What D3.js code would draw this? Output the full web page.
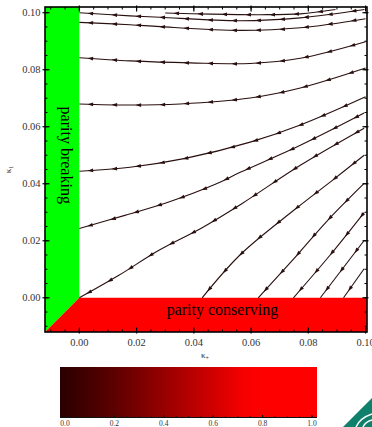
<!DOCTYPE html>
<html><head><meta charset="utf-8">
<script src="https://cdn.jsdelivr.net/npm/d3@7"></script>
<style>body{margin:0;background:#fff}svg{display:block}text{font-family:"Liberation Serif","DejaVu Serif",serif}</style>
</head><body><svg id="c" width="372" height="427"></svg>
<script>
// ---- data ----
const xTickValues = [0, 0.02, 0.04, 0.06, 0.08, 0.10];
const yTickValues = [0, 0.02, 0.04, 0.06, 0.08, 0.10];
const colorTickValues = [0, 0.2, 0.4, 0.6, 0.8, 1.0];
const regionLabels = ["parity breaking", "parity conserving"];
const axisLabels = ["κ", "+", "1"];
// streamlines, listed from the downstream (left) end; flow runs toward the first point
const stream01 = [[0.0300,0.0999],[0.0457,0.0995],[0.0632,0.0993],[0.0772,0.0996],[0.0895,0.1011]];
const stream02 = [[0.0000,0.1000],[0.0177,0.0989],[0.0282,0.0984],[0.0562,0.0972],[0.0772,0.0982],[0.0996,0.1011]];
const stream03 = [[0.0000,0.0966],[0.0177,0.0958],[0.0282,0.0951],[0.0562,0.0938],[0.0772,0.0947],[0.1000,0.0979]];
const stream04 = [[0.0000,0.0842],[0.0177,0.0831],[0.0387,0.0824],[0.0597,0.0822],[0.0772,0.0840],[0.1000,0.0898]];
const stream05 = [[0.0000,0.0680],[0.0177,0.0676],[0.0352,0.0680],[0.0597,0.0701],[0.0772,0.0736],[0.1000,0.0806]];
const stream06 = [[0.0000,0.0444],[0.0177,0.0458],[0.0370,0.0489],[0.0597,0.0546],[0.0772,0.0606],[0.1000,0.0705]];
const stream07 = [[0.0000,0.0243],[0.0159,0.0289],[0.0310,0.0335],[0.0475,0.0398],[0.0562,0.0440],[0.0772,0.0535],[0.0995,0.0648]];
const stream08 = [[0.0000,0.0000],[0.0135,0.0077],[0.0275,0.0165],[0.0429,0.0246],[0.0569,0.0331],[0.0772,0.0465],[0.0995,0.0595]];
const stream09 = [[0.0429,0.0000],[0.0562,0.0151],[0.0748,0.0306],[0.0884,0.0412],[0.0995,0.0500]];
const stream10 = [[0.0625,0.0000],[0.0737,0.0123],[0.0867,0.0271],[0.0995,0.0401]];
const stream11 = [[0.0748,0.0000],[0.0877,0.0151],[0.0995,0.0299]];
const stream12 = [[0.0842,0.0000],[0.0995,0.0201]];
const stream13 = [[0.0923,0.0000],[0.0995,0.0102]];
const streams = [stream01,stream02,stream03,stream04,stream05,stream06,stream07,stream08,stream09,stream10,stream11,stream12,stream13];
const xDomain = [-0.012, 0.1005];
const yDomain = [-0.012, 0.102];

// ---- drawing ----
const svg = d3.select("#c");
const L = 45, R = 367, T = 7, B = 332;
const x = d3.scaleLinear().domain(xDomain).range([L, R]);
const y = d3.scaleLinear().domain(yDomain).range([B, T]);

// regions
const poly = d3.line().x(d => x(d[0])).y(d => y(d[1]));
svg.append("path").attr("d", poly([[xDomain[0],yDomain[0]],[0,0],[0,yDomain[1]],[xDomain[0],yDomain[1]]])+"Z").attr("fill","#00ff00");
svg.append("path").attr("d", poly([[xDomain[0],yDomain[0]],[0,0],[xDomain[1],0],[xDomain[1],yDomain[0]]])+"Z").attr("fill","#ff0000");

// streamlines
const line = d3.line().x(d => x(d[0])).y(d => y(d[1])).curve(d3.curveCatmullRom.alpha(0.5));
const lineColor = "#2a0f0f";
const gStreams = svg.append("g");
streams.forEach(s => {
  const p = gStreams.append("path").attr("d", line(s)).attr("fill","none")
    .attr("stroke", lineColor).attr("stroke-width", 1.1);
  const node = p.node();
  const len = node.getTotalLength();
  const step = 24;
  for (let t = 11; t < len - 3; t += step) {
    const a = node.getPointAtLength(Math.max(0, t - 1));
    const b = node.getPointAtLength(Math.min(len, t + 1));
    let dx = a.x - b.x, dy = a.y - b.y;
    const n = Math.hypot(dx, dy) || 1; dx /= n; dy /= n;
    const c = node.getPointAtLength(t);
    const tip = [c.x + dx*2.8, c.y + dy*2.8];
    const bx = c.x - dx*2.8, by = c.y - dy*2.8;
    const w = 1.9;
    gStreams.append("path")
      .attr("d", `M${tip[0]},${tip[1]}L${bx - dy*w},${by + dx*w}L${bx + dy*w},${by - dx*w}Z`)
      .attr("fill", lineColor);
  }
});

// region labels
svg.append("text").attr("transform", `translate(61,${y(0.05)}) rotate(90)`)
  .attr("text-anchor","middle").attr("font-size",16).attr("fill","#000").text(regionLabels[0]);
svg.append("text").attr("x", x(0.05)).attr("y", 314.5)
  .attr("text-anchor","middle").attr("font-size",16).attr("fill","#000").text(regionLabels[1]);

// frame + ticks
const axG = svg.append("g").attr("stroke","#000");
axG.append("rect").attr("x",L).attr("y",T).attr("width",R-L).attr("height",B-T)
  .attr("fill","none").attr("stroke-width",1.6);
const minorX = d3.range(-0.01, 0.1001, 0.005);
const minorY = d3.range(-0.01, 0.1001, 0.005);
minorX.forEach(v => {
  const X = x(v);
  axG.append("line").attr("x1",X).attr("x2",X).attr("y1",B).attr("y2",B-2.5).attr("stroke-width",1);
  axG.append("line").attr("x1",X).attr("x2",X).attr("y1",T).attr("y2",T+2.5).attr("stroke-width",1);
});
minorY.forEach(v => {
  const Y = y(v);
  axG.append("line").attr("x1",L).attr("x2",L+2.5).attr("y1",Y).attr("y2",Y).attr("stroke-width",1);
  axG.append("line").attr("x1",R).attr("x2",R-2.5).attr("y1",Y).attr("y2",Y).attr("stroke-width",1);
});
xTickValues.forEach(v => {
  const X = x(v);
  axG.append("line").attr("x1",X).attr("x2",X).attr("y1",B+1.5).attr("y2",B-4.5).attr("stroke-width",1.2);
  axG.append("line").attr("x1",X).attr("x2",X).attr("y1",T-1.5).attr("y2",T+4.5).attr("stroke-width",1.2);
});
yTickValues.forEach(v => {
  const Y = y(v);
  axG.append("line").attr("x1",L-2.5).attr("x2",L+4.5).attr("y1",Y).attr("y2",Y).attr("stroke-width",1.2);
  axG.append("line").attr("x1",R+1.5).attr("x2",R-4.5).attr("y1",Y).attr("y2",Y).attr("stroke-width",1.2);
});
const fmt = d3.format(".2f");
svg.append("g").selectAll("text").data(xTickValues).join("text")
  .attr("x", d => x(d)).attr("y", 345.5).attr("text-anchor","middle")
  .attr("font-size",10.5).attr("fill","#333").text(fmt);
svg.append("g").selectAll("text").data(yTickValues).join("text")
  .attr("x", 40.5).attr("y", d => y(d) + 3.6).attr("text-anchor","end")
  .attr("font-size",10.5).attr("fill","#333").text(fmt);

// axis labels
const xl = svg.append("text").attr("x", 205).attr("y", 358).attr("text-anchor","middle")
  .attr("font-size",9).attr("fill","#333");
xl.append("tspan").text(axisLabels[0]);
xl.append("tspan").attr("font-size",6).attr("dy",1.5).text(axisLabels[1]);
const yl = svg.append("text").attr("transform", `translate(11,${y(0.045)}) rotate(-90)`)
  .attr("text-anchor","middle").attr("font-size",9).attr("fill","#333");
yl.append("tspan").text(axisLabels[0]);
yl.append("tspan").attr("font-size",6).attr("dy",1.5).text(axisLabels[2]);

// colour bar
const defs = svg.append("defs");
const grad = defs.append("linearGradient").attr("id","cb").attr("x1","0%").attr("x2","100%");
[[0,"#2a0000"],[0.2,"#5a0000"],[0.4,"#960000"],[0.6,"#d20000"],[0.72,"#f80000"],[0.8,"#ff0000"],[1,"#ff0000"]]
  .forEach(([o,c]) => grad.append("stop").attr("offset", o*100+"%").attr("stop-color", c));
const cb = d3.scaleLinear().domain([0,1]).range([65,312]);
svg.append("rect").attr("x",60).attr("y",367).attr("width",257).attr("height",51).attr("fill","url(#cb)");
const cbG = svg.append("g").attr("stroke","#111");
cbG.append("line").attr("x1",60).attr("x2",317).attr("y1",417.5).attr("y2",417.5).attr("stroke-width",1);
d3.range(0, 1.0001, 0.05).forEach(v => {
  cbG.append("line").attr("x1",cb(v)).attr("x2",cb(v)).attr("y1",417.5).attr("y2",416).attr("stroke-width",0.8);
});
colorTickValues.forEach(v => {
  cbG.append("line").attr("x1",cb(v)).attr("x2",cb(v)).attr("y1",418).attr("y2",415).attr("stroke-width",1);
});
svg.append("g").selectAll("text").data(colorTickValues).join("text")
  .attr("x", d => cb(d)).attr("y", 426).attr("text-anchor","middle")
  .attr("font-size",7.5).attr("fill","#333").text(d3.format(".1f"));

// corner badge
svg.append("path").attr("d","M343,427L372,398L372,427Z").attr("fill","#0f806b");
svg.append("path").attr("d","M356,427Q360,418 372,414").attr("fill","none").attr("stroke","#fff").attr("stroke-width",1.5);
svg.append("path").attr("d","M363,427Q365,422 372,420").attr("fill","none").attr("stroke","#fff").attr("stroke-width",1.5);
</script></body></html>
